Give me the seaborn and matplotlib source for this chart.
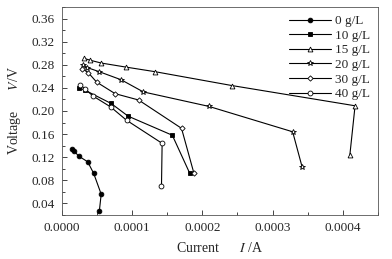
import numpy as np
import pandas as pd
import seaborn as sns
import matplotlib
matplotlib.use("Agg")
import matplotlib.pyplot as plt
from matplotlib.ticker import MultipleLocator, FormatStrFormatter

# current (A) and voltage (V) for each concentration
i_0 = [1.42e-5, 1.78e-5, 2.38e-5, 3.67e-5, 4.52e-5, 5.59e-5, 5.33e-5]
v_0 = [0.135, 0.130, 0.122, 0.112, 0.092, 0.056, 0.027]

i_10 = [2.46e-5, 3.27e-5, 7.01e-5, 9.43e-5, 1.572e-4, 1.821e-4]
v_10 = [0.240, 0.236, 0.213, 0.191, 0.158, 0.092]

i_15 = [3.17e-5, 3.98e-5, 5.59e-5, 9.10e-5, 1.327e-4, 2.422e-4, 4.175e-4, 4.10e-4]
v_15 = [0.291, 0.288, 0.283, 0.276, 0.268, 0.244, 0.209, 0.123]

i_20 = [3.06e-5, 3.63e-5, 5.31e-5, 8.44e-5, 1.159e-4, 2.091e-4, 3.286e-4, 3.421e-4]
v_20 = [0.280, 0.275, 0.268, 0.254, 0.233, 0.208, 0.164, 0.103]

i_30 = [2.92e-5, 3.77e-5, 4.94e-5, 7.57e-5, 1.092e-4, 1.703e-4, 1.878e-4]
v_30 = [0.273, 0.266, 0.250, 0.230, 0.219, 0.170, 0.093]

i_40 = [2.63e-5, 3.31e-5, 4.41e-5, 6.94e-5, 9.20e-5, 1.427e-4, 1.418e-4]
v_40 = [0.245, 0.238, 0.226, 0.207, 0.184, 0.144, 0.071]

labels = ["0 g/L", "10 g/L", "15 g/L", "20 g/L", "30 g/L", "40 g/L"]

sns.set_style("ticks")
plt.rcParams['font.family'] = ['Liberation Serif', 'DejaVu Serif']
plt.rcParams['mathtext.fontset'] = 'stix'
plt.rcParams['font.size'] = 9.5
plt.rcParams['xtick.direction'] = 'in'
plt.rcParams['ytick.direction'] = 'in'

fig = plt.figure(figsize=(3.92, 2.59), dpi=100)
ax = fig.add_axes([0.158, 0.17, 0.806, 0.803])

series = [(i_0, v_0), (i_10, v_10), (i_15, v_15), (i_20, v_20), (i_30, v_30), (i_40, v_40)]
styles = [
    dict(marker='o', markerfacecolor='black', markersize=3.4),
    dict(marker='s', markerfacecolor='black', markersize=3.2),
    dict(marker='^', markerfacecolor='white', markersize=3.5),
    dict(marker='*', markerfacecolor='white', markersize=3.8),
    dict(marker='D', markerfacecolor='white', markersize=2.7),
    dict(marker='o', markerfacecolor='white', markersize=3.5),
]

for (x, y), lab, st in zip(series, labels, styles):
    df = pd.DataFrame({'I': x, 'V': y})
    sns.lineplot(data=df, x='I', y='V', sort=False, estimator=None, ax=ax,
                 color='black', linewidth=0.8, markeredgecolor='black',
                 markeredgewidth=0.6, label=lab, **st)

ax.set_xlim(0, 0.00045)
ax.set_ylim(0.02, 0.38)
ax.xaxis.set_major_locator(MultipleLocator(0.0001))
ax.xaxis.set_minor_locator(MultipleLocator(0.00005))
ax.yaxis.set_major_locator(MultipleLocator(0.04))
ax.yaxis.set_minor_locator(MultipleLocator(0.02))
ax.xaxis.set_major_formatter(FormatStrFormatter('%.4f'))
ax.yaxis.set_major_formatter(FormatStrFormatter('%.2f'))
ax.tick_params(which='major', length=3.5, width=0.6, labelsize=9.5, pad=5)
ax.tick_params(which='minor', length=2, width=0.6)
for s in ax.spines.values():
    s.set_linewidth(0.6)
    s.set_color('#555555')

ax.set_xlabel('Current      $I$ /A', fontsize=10, labelpad=5)
ax.set_ylabel('Voltage      $V$/V', fontsize=10, labelpad=6)

ax.legend(loc='upper right', frameon=False, fontsize=9.5, handlelength=3.2,
          labelspacing=0.18, handletextpad=0.3, borderaxespad=0.2)

fig.savefig('out.png', dpi=100)
